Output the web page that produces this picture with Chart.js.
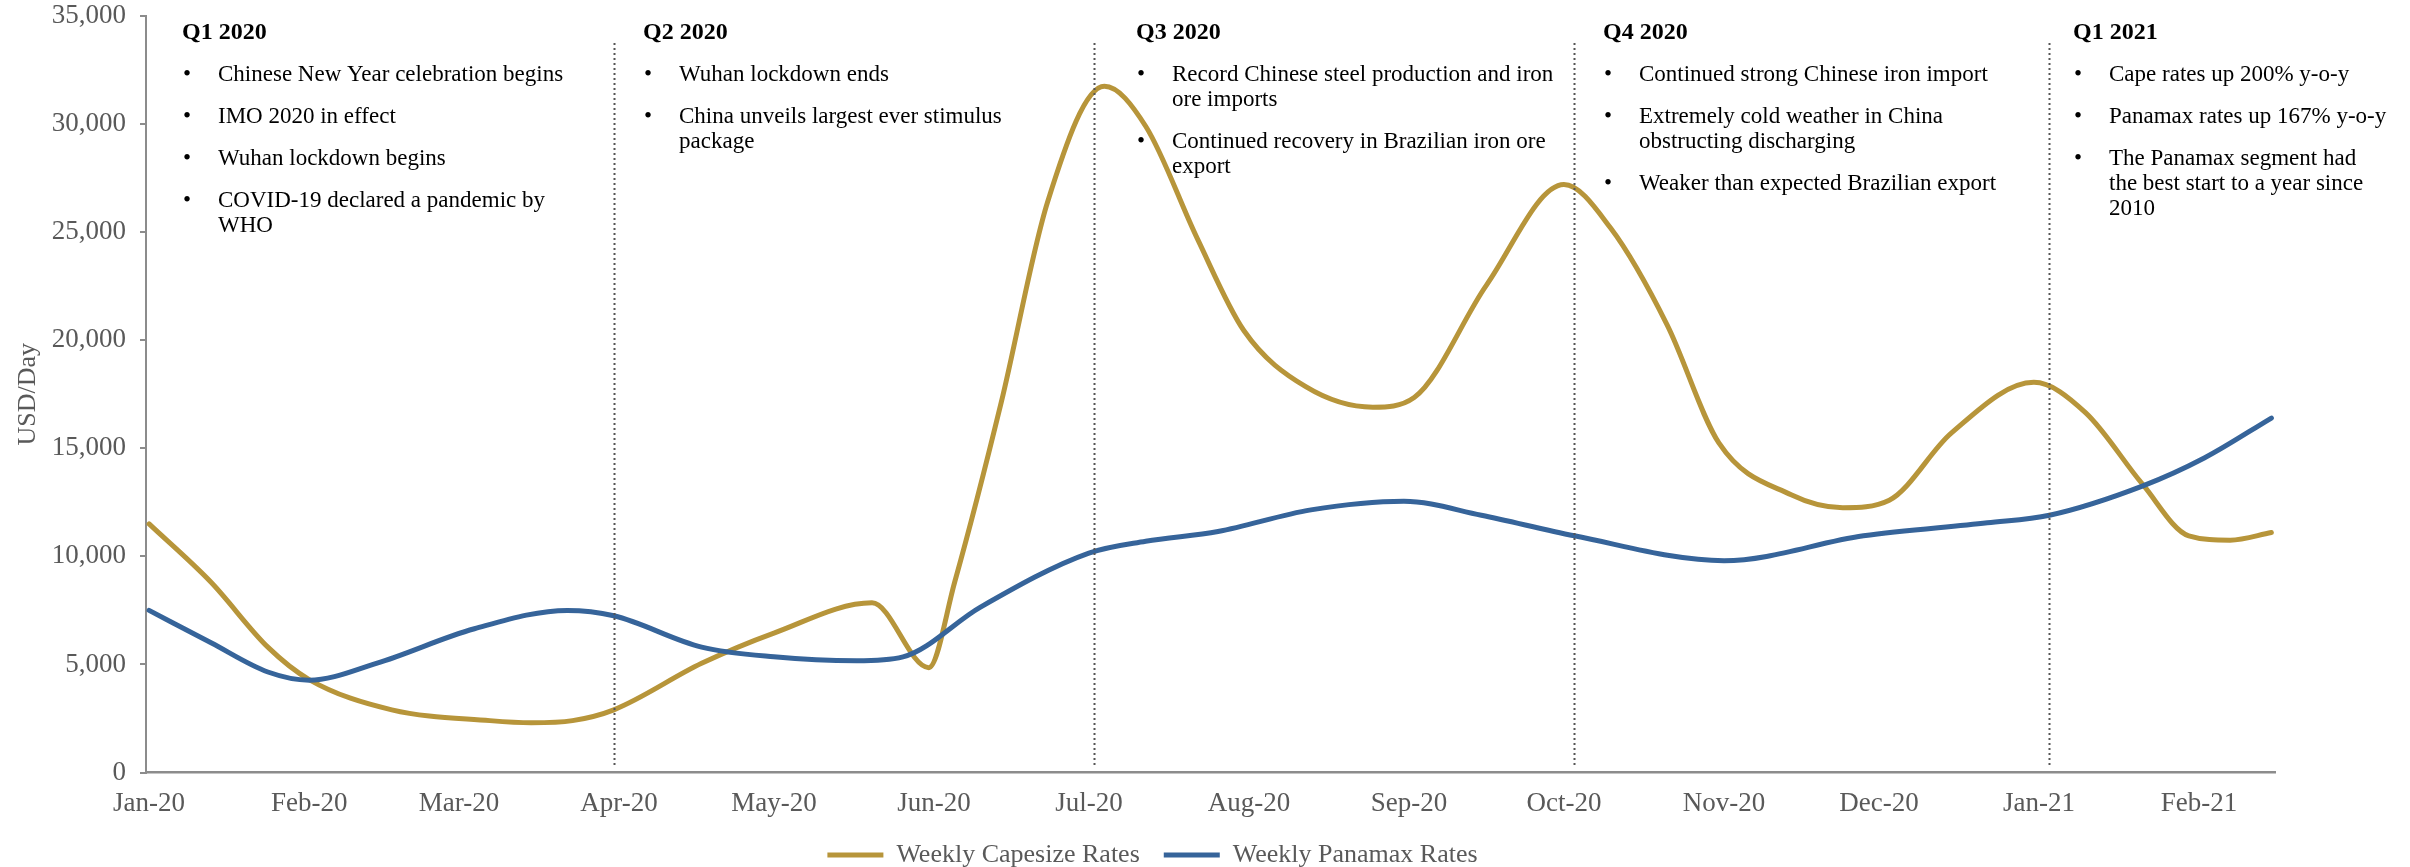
<!DOCTYPE html>
<html>
<head>
<meta charset="utf-8">
<script src="https://cdn.jsdelivr.net/npm/chart.js@4/dist/chart.umd.min.js"></script>
<style>
  html, body { margin: 0; padding: 0; background: #ffffff; }
  #wrap { width: 2410px; height: 867px; }
</style>
</head>
<body>
<div id="wrap"><canvas id="chart" width="2410" height="867"></canvas></div>
<script>
// Month ticks along the date axis
const monthLabels = ['Jan-20', 'Feb-20', 'Mar-20', 'Apr-20', 'May-20', 'Jun-20', 'Jul-20',
                     'Aug-20', 'Sep-20', 'Oct-20', 'Nov-20', 'Dec-20', 'Jan-21', 'Feb-21'];
const monthStarts = ['2020-01-01', '2020-02-01', '2020-03-01', '2020-04-01', '2020-05-01',
                     '2020-06-01', '2020-07-01', '2020-08-01', '2020-09-01', '2020-10-01',
                     '2020-11-01', '2020-12-01', '2021-01-01', '2021-02-01'];

// Capesize time charter rates (USD/day)
const capesizeDates = ['2020-01-01', '2020-01-13', '2020-01-24', '2020-02-01', '2020-02-17',
                       '2020-03-07', '2020-03-15', '2020-03-23', '2020-03-31', '2020-04-17',
                       '2020-05-01', '2020-05-20', '2020-05-31', '2020-06-05', '2020-06-14',
                       '2020-06-23', '2020-07-04', '2020-07-12', '2020-07-22', '2020-07-31',
                       '2020-08-12', '2020-08-25', '2020-09-02', '2020-09-16', '2020-10-01',
                       '2020-10-10', '2020-10-21', '2020-10-31', '2020-11-14', '2020-11-24',
                       '2020-12-03', '2020-12-15', '2020-12-31', '2021-01-10', '2021-01-21',
                       '2021-01-30', '2021-02-07', '2021-02-15'];
const capesizeRates = [11500, 8800, 5800, 4300, 2900,
                       2400, 2300, 2400, 2900, 5050,
                       6450, 7850, 4850, 8800, 17100,
                       26400, 31750, 29900, 24700, 20450,
                       17850, 16900, 17350, 22550, 27200,
                       25200, 20700, 15250, 12850, 12250,
                       12600, 15700, 18050, 16650, 13350,
                       10950, 10750, 11100];

// Panamax time charter rates (USD/day)
const panamaxDates = ['2020-01-01', '2020-01-13', '2020-01-24', '2020-02-01', '2020-02-14',
                      '2020-03-04', '2020-03-22', '2020-03-31', '2020-04-17', '2020-05-01',
                      '2020-05-17', '2020-05-26', '2020-06-10', '2020-07-01', '2020-07-12',
                      '2020-07-26', '2020-08-13', '2020-08-31', '2020-09-15', '2020-10-03',
                      '2020-11-01', '2020-11-28', '2020-12-22', '2021-01-03', '2021-01-21',
                      '2021-02-02', '2021-02-15'];
const panamaxRates = [7500, 6000, 4650, 4270, 5050,
                      6650, 7500, 7250, 5800, 5350,
                      5170, 5350, 7650, 10150, 10700,
                      11150, 12150, 12550, 11900, 10950,
                      9800, 10950, 11550, 11900, 13250,
                      14550, 16400];

// Quarter dividers and the market notes written above each quarter
const quarterStarts = ['2020-03-31', '2020-07-02', '2020-10-03', '2021-01-03'];
const quarterTitles = ['Q1 2020', 'Q2 2020', 'Q3 2020', 'Q4 2020', 'Q1 2021'];
const quarterBullets = [
  [['Chinese New Year celebration begins'], ['IMO 2020 in effect'], ['Wuhan lockdown begins'],
   ['COVID-19 declared a pandemic by', 'WHO']],
  [['Wuhan lockdown ends'], ['China unveils largest ever stimulus', 'package']],
  [['Record Chinese steel production and iron', 'ore imports'],
   ['Continued recovery in Brazilian iron ore', 'export']],
  [['Continued strong Chinese iron import'], ['Extremely cold weather in China', 'obstructing discharging'],
   ['Weaker than expected Brazilian export']],
  [['Cape rates up 200% y-o-y'], ['Panamax rates up 167% y-o-y'],
   ['The Panamax segment had', 'the best start to a year since', '2010']]
];

const SERIF = "'Liberation Serif', 'Times New Roman', serif";
const AXIS_GREY = '#595959';

// days elapsed since 1 Jan 2020
function dayIndex(iso) {
  const [y, m, d] = iso.split('-').map(Number);
  return (Date.UTC(y, m - 1, d) - Date.UTC(2020, 0, 1)) / 86400000;
}
const toPoints = (dates, values) => dates.map((d, i) => ({ x: dayIndex(d), y: values[i] }));

const quarterNotesPlugin = {
  id: 'quarterNotes',
  afterDatasetsDraw(chart, args, opts) {
    const { ctx, chartArea, scales: { x } } = chart;
    ctx.save();
    // dotted dividers between quarters
    ctx.strokeStyle = '#555555';
    ctx.lineWidth = 2;
    ctx.setLineDash([2, 3]);
    quarterStarts.forEach(d => {
      const px = Math.round(x.getPixelForValue(dayIndex(d))) + 0.5;
      ctx.beginPath();
      ctx.moveTo(px, chartArea.top + opts.lineTopGap);
      ctx.lineTo(px, chartArea.bottom - opts.lineBottomGap);
      ctx.stroke();
    });
    ctx.setLineDash([]);

    // quarter headings and bullet notes
    ctx.fillStyle = '#000000';
    ctx.textAlign = 'left';
    ctx.textBaseline = 'middle';
    quarterTitles.forEach((title, i) => {
      const left = opts.noteLeft[i];
      ctx.font = 'bold 24px ' + SERIF;
      ctx.fillText(title, left, opts.titleY);
      ctx.font = '23px ' + SERIF;
      let y = opts.firstBulletY;
      quarterBullets[i].forEach(lines => {
        ctx.fillText('\u2022', left + 1, y);
        lines.forEach(line => {
          ctx.fillText(line, left + opts.textIndent, y);
          y += opts.lineStep;
        });
        y += opts.bulletGap;
      });
    });
    ctx.restore();
  }
};

new Chart(document.getElementById('chart'), {
  type: 'line',
  data: {
    datasets: [
      {
        label: 'Weekly Capesize Rates',
        data: toPoints(capesizeDates, capesizeRates),
        borderColor: '#B7953A',
        backgroundColor: '#B7953A',
        borderWidth: 5,
        borderCapStyle: 'round',
        borderJoinStyle: 'round',
        pointRadius: 0,
        cubicInterpolationMode: 'monotone',
        order: 2
      },
      {
        label: 'Weekly Panamax Rates',
        data: toPoints(panamaxDates, panamaxRates),
        borderColor: '#36649A',
        backgroundColor: '#36649A',
        borderWidth: 5,
        borderCapStyle: 'round',
        borderJoinStyle: 'round',
        pointRadius: 0,
        cubicInterpolationMode: 'monotone',
        order: 1
      }
    ]
  },
  options: {
    responsive: false,
    animation: false,
    layout: { padding: { left: 30, right: 135, top: 16, bottom: -11 } },
    scales: {
      x: {
        type: 'linear',
        min: -0.6,
        max: 411.7,
        grid: { display: false, drawTicks: false },
        border: { display: true, color: '#8C8C8C', width: 2.5 },
        afterBuildTicks(scale) {
          scale.ticks = monthStarts.map(d => ({ value: dayIndex(d) }));
        },
        afterFit(scale) { scale.height = 45.5; },
        ticks: {
          autoSkip: false,
          maxRotation: 0,
          padding: 15,
          color: AXIS_GREY,
          font: { family: SERIF, size: 27 },
          callback(value, index) { return monthLabels[index]; }
        }
      },
      y: {
        min: 0,
        max: 35000,
        afterFit(scale) {
          scale.width = 116;
          scale.paddingTop = 0;
          scale.paddingBottom = 0;
        },
        grid: { drawOnChartArea: false, drawTicks: true, tickLength: 6, color: '#8C8C8C', lineWidth: 2 },
        border: { display: true, color: '#8C8C8C', width: 2 },
        ticks: {
          stepSize: 5000,
          padding: 14,
          color: AXIS_GREY,
          font: { family: SERIF, size: 27 },
          callback(value) { return value.toLocaleString('en-US'); }
        },
        title: {
          display: true,
          text: 'USD/Day',
          color: AXIS_GREY,
          font: { family: SERIF, size: 26 },
          padding: { top: -17.6, bottom: 0 }
        }
      }
    },
    plugins: {
      legend: {
        position: 'bottom',
        labels: {
          usePointStyle: true,
          pointStyle: 'line',
          pointStyleWidth: 56,
          padding: 24,
          color: AXIS_GREY,
          font: { family: SERIF, size: 26 },
          sort: (a, b) => a.datasetIndex - b.datasetIndex
        }
      },
      tooltip: { enabled: false },
      quarterNotes: {
        noteLeft: [182, 643, 1136, 1603, 2073],
        titleY: 33,
        firstBulletY: 75,
        textIndent: 36,
        lineStep: 25,
        bulletGap: 17,
        lineTopGap: 27,
        lineBottomGap: 5
      }
    }
  },
  plugins: [quarterNotesPlugin]
});
</script>
</body>
</html>
